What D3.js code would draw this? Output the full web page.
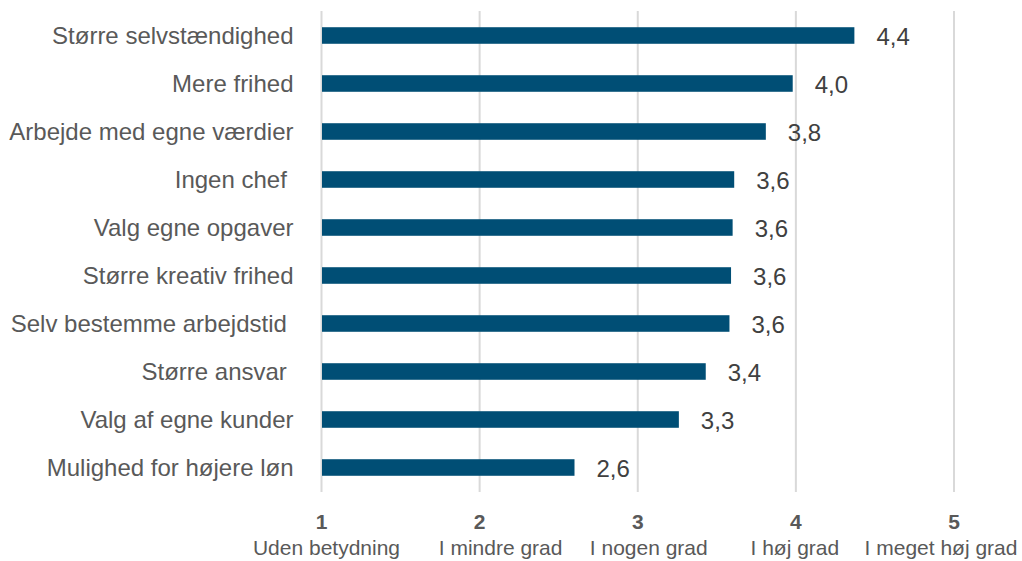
<!DOCTYPE html>
<html>
<head>
<meta charset="utf-8">
<script src="https://cdn.jsdelivr.net/npm/d3@7"></script>
<style>
  body { margin: 0; background: #fff; }
  svg text { font-family: "Liberation Sans", Arial, sans-serif; white-space: pre; }
</style>
</head>
<body>
<div id="chart"></div>
<script>
// categories top to bottom (trailing spaces are in the original labels)
var categories = ["Større selvstændighed", "Mere frihed", "Arbejde med egne værdier", "Ingen chef ",
    "Valg egne opgaver", "Større kreativ frihed", "Selv bestemme arbejdstid ", "Større ansvar ",
    "Valg af egne kunder", "Mulighed for højere løn"];
var values = [4.37, 3.98, 3.81, 3.61, 3.60, 3.59, 3.58, 3.43, 3.26, 2.60];

var tickValues = [1, 2, 3, 4, 5];
var tickNames = ["Uden betydning", "I mindre grad", "I nogen grad", "I høj grad", "I meget høj grad"];
// the scale names sit a little off their ticks in the original
var nameShift = [5, 21, 11, -1, -13];

var width = 1022, height = 561;
var margin = {top: 11.5, left: 321.5, right: 68, bottom: 69.5};

var svg = d3.select("#chart").append("svg")
    .attr("width", width)
    .attr("height", height);

var x = d3.scaleLinear()
    .domain([1, 5])
    .range([margin.left, width - margin.right]);

var y = d3.scaleBand()
    .domain(categories)
    .range([margin.top, height - margin.bottom]);

var barH = y.step() * 0.345;
var decimalFormat = d3.format(".1f");

// gridlines
svg.append("g")
    .selectAll("line")
    .data(tickValues)
    .enter().append("line")
    .attr("x1", function(d) { return x(d); })
    .attr("x2", function(d) { return x(d); })
    .attr("y1", margin.top - 0.5)
    .attr("y2", height - margin.bottom + 0.5)
    .attr("stroke", "#d9d9d9")
    .attr("stroke-width", 2);

// bars
svg.append("g")
    .selectAll("rect")
    .data(values)
    .enter().append("rect")
    .attr("x", x(1) + 0.5)
    .attr("y", function(d, i) { return y(categories[i]) + y.bandwidth() / 2 - barH / 2; })
    .attr("width", function(d) { return x(d) - x(1) - 0.5; })
    .attr("height", barH)
    .attr("fill", "#004e75");

// value labels
svg.append("g")
    .selectAll("text")
    .data(values)
    .enter().append("text")
    .attr("x", function(d) { return x(d) + 22; })
    .attr("y", function(d, i) { return y(categories[i]) + y.bandwidth() / 2; })
    .attr("dy", "0.38em")
    .attr("font-size", "24px")
    .attr("fill", "#404040")
    .text(function(d) { return decimalFormat(d).replace(".", ","); });

// category labels
svg.append("g")
    .selectAll("text")
    .data(categories)
    .enter().append("text")
    .attr("x", margin.left - 28)
    .attr("y", function(d) { return y(d) + y.bandwidth() / 2; })
    .attr("dy", "0.35em")
    .attr("text-anchor", "end")
    .attr("font-size", "24px")
    .attr("fill", "#595959")
    .text(function(d) { return d; });

// x axis numbers
svg.append("g")
    .selectAll("text")
    .data(tickValues)
    .enter().append("text")
    .attr("x", function(d) { return x(d); })
    .attr("y", 528.5)
    .attr("text-anchor", "middle")
    .attr("font-size", "21px")
    .attr("font-weight", "bold")
    .attr("fill", "#595959")
    .text(function(d) { return d; });

// x axis names
svg.append("g")
    .selectAll("text")
    .data(tickNames)
    .enter().append("text")
    .attr("x", function(d, i) { return x(tickValues[i]) + nameShift[i]; })
    .attr("y", 555)
    .attr("text-anchor", "middle")
    .attr("font-size", "21px")
    .attr("fill", "#595959")
    .text(function(d) { return d; });
</script>
</body>
</html>
